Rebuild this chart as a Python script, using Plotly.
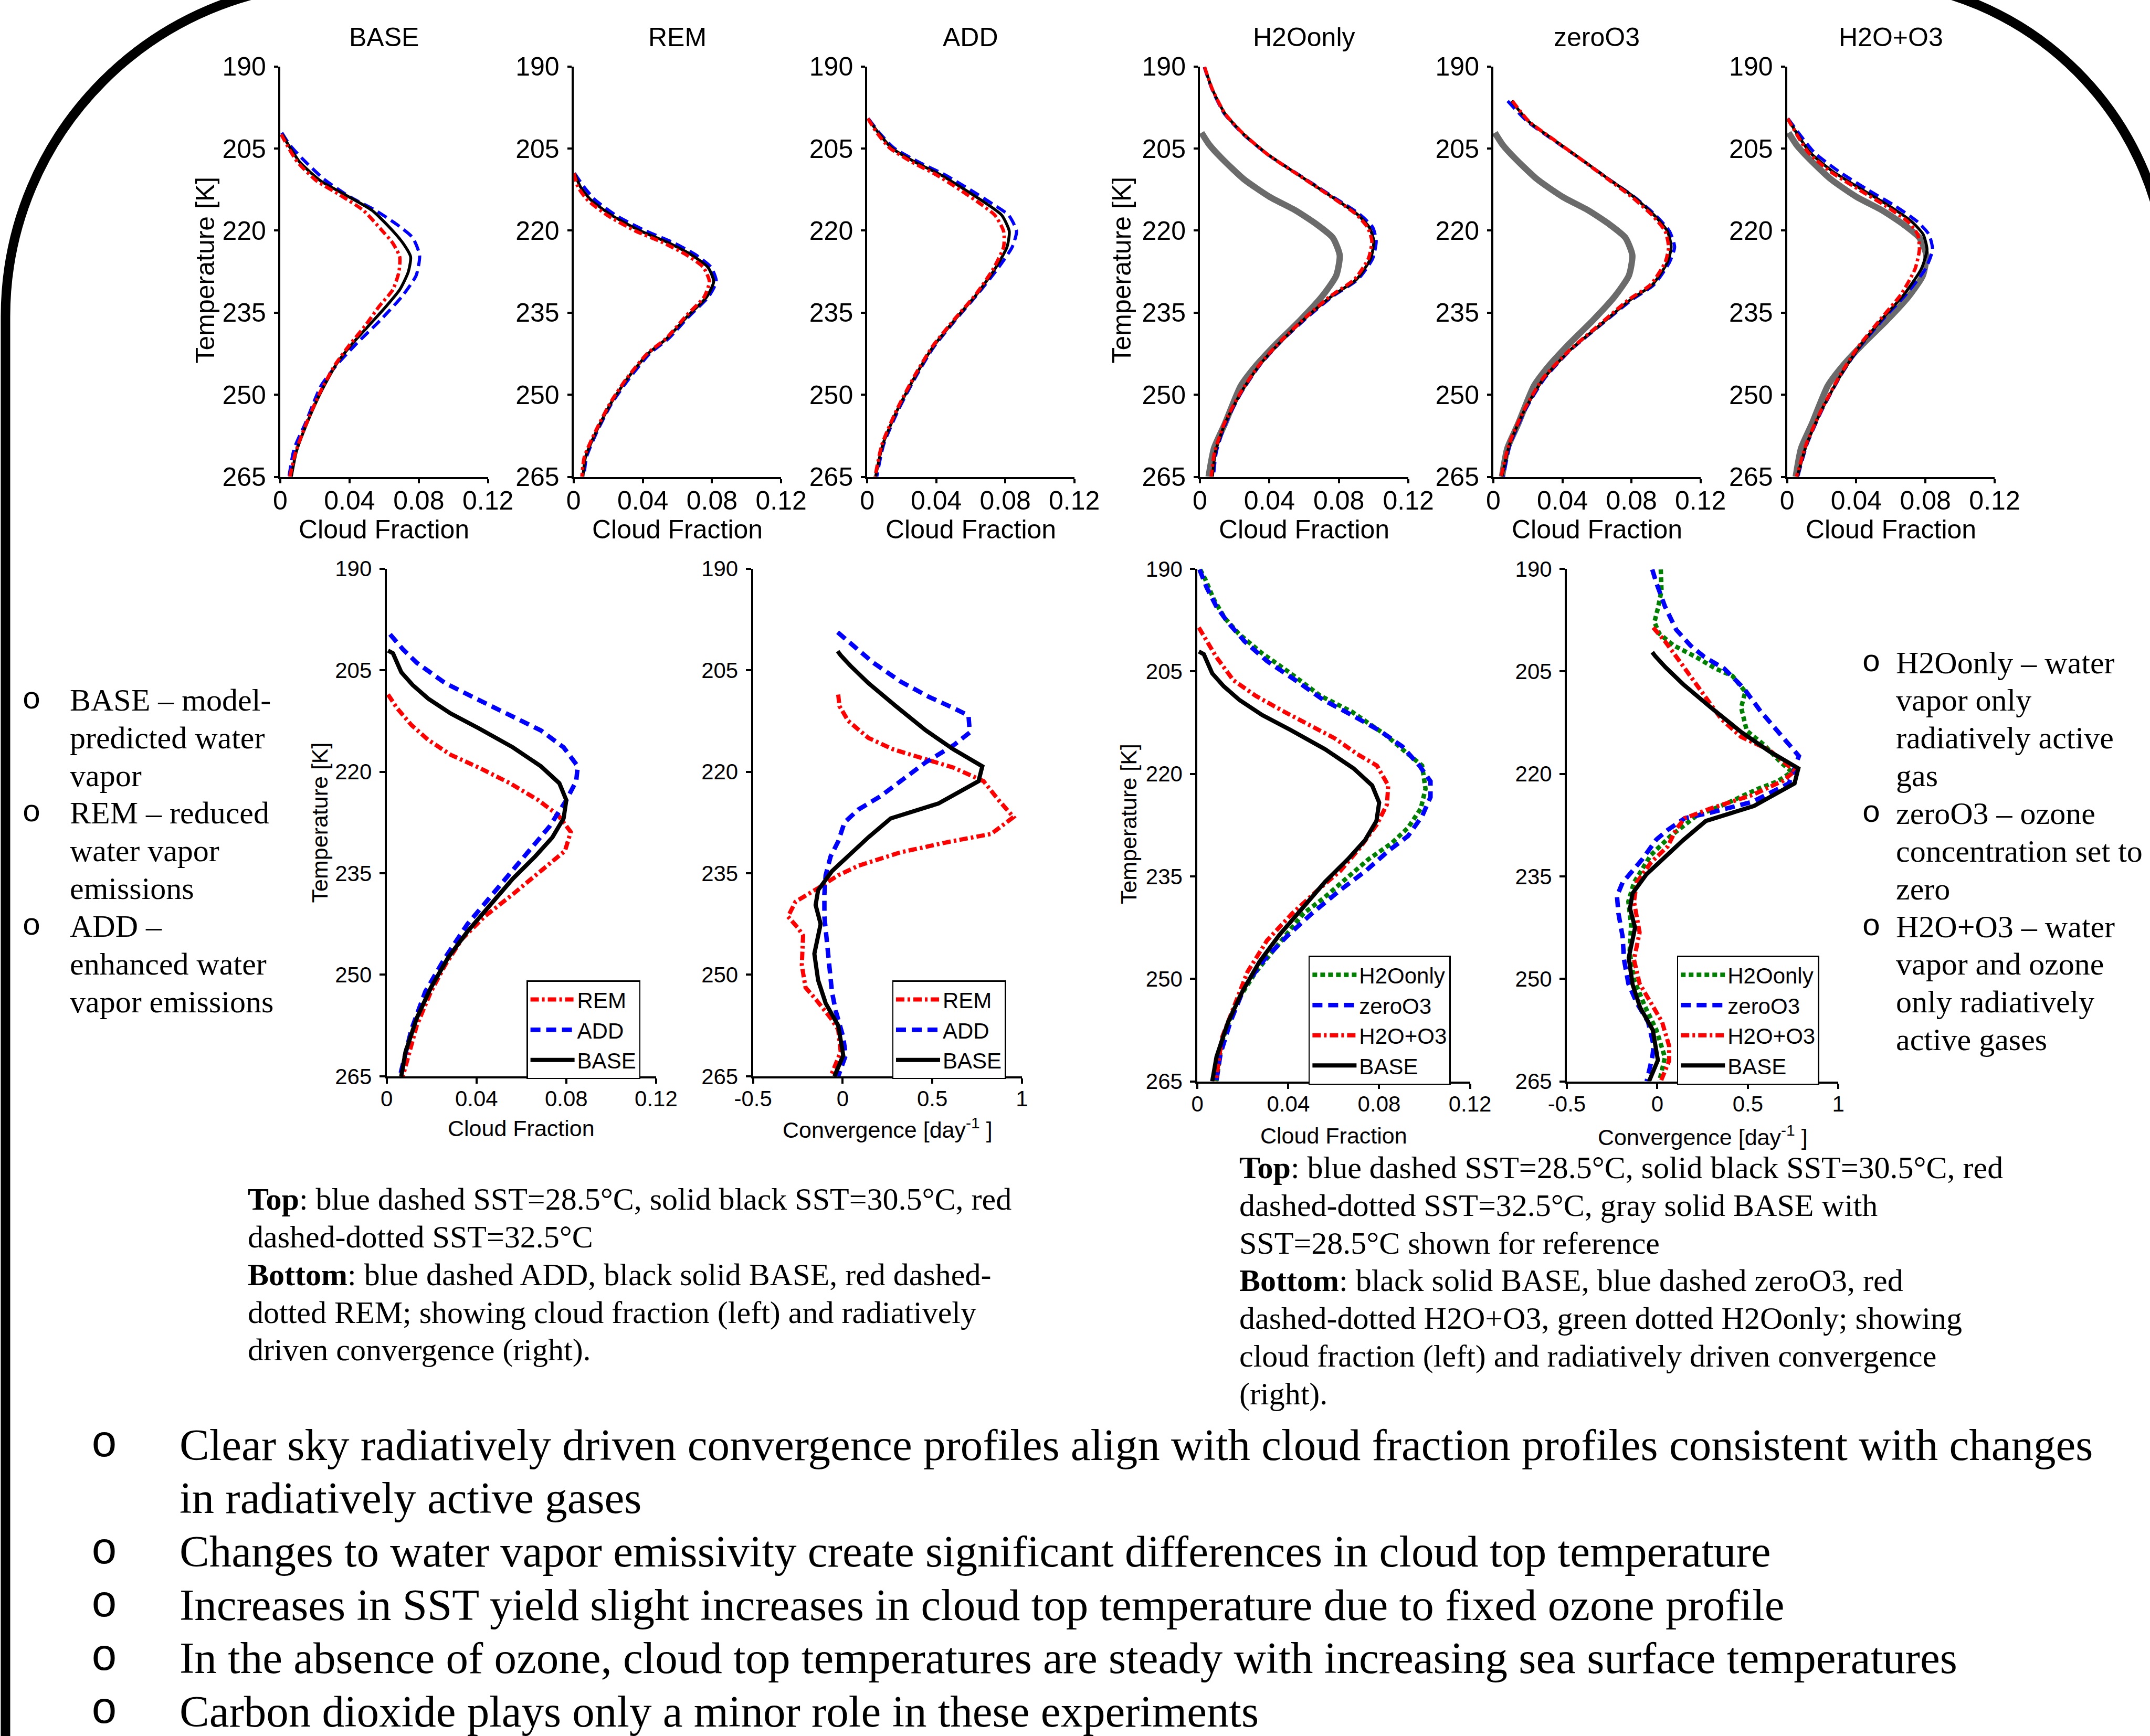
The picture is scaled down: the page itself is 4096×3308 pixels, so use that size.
import plotly.graph_objects as go

# ---------------- layout grid (design units of a 1568 x 1266 sheet) ----------------
W_REF, H_REF = 1568.0, 1266.0
W, H = 4096, 3308


def fx(x):
    return x / W_REF


def fy(y):
    return 1 - y / H_REF


# ---------------- data ----------------
TEMP_TICKS = [190, 205, 220, 235, 250, 265]
CF_TICKS = [0, 0.04, 0.08, 0.12]
CF_TICK_TEXT = ["0", "0.04", "0.08", "0.12"]
CV_TICKS = [-0.5, 0, 0.5, 1]
CV_TICK_TEXT = ["-0.5", "0", "0.5", "1"]

TOP_TITLES = ["BASE", "REM", "ADD", "H2Oonly", "zeroO3", "H2O+O3"]

# BASE, SST = 28.5 C (also used as the gray reference curve)
T_GRAY = [202.1, 204.3, 206.8, 210.6, 213.8, 216.3, 218.8, 221.3, 224.5, 228.2, 232.0, 236.4, 240.9, 244.6, 248.4, 255.3, 259.8, 265.0]
CF_GRAY = [0.0009, 0.0054, 0.0126, 0.0253, 0.0400, 0.0550, 0.0670, 0.0765, 0.0805, 0.0785, 0.0704, 0.0577, 0.0433, 0.0325, 0.0235, 0.0144, 0.0081, 0.0050]

T_BASE_TOP = [202.4, 205.0, 207.5, 210.9, 213.4, 216.3, 219.7, 222.3, 224.8, 227.6, 230.8, 233.9, 237.4, 240.9, 244.6, 249.7, 255.3, 260.4, 265.0]
CF_BASE_305 = [0.0010, 0.0060, 0.0113, 0.0232, 0.0372, 0.0530, 0.0640, 0.0709, 0.0753, 0.0739, 0.0690, 0.0610, 0.0510, 0.0410, 0.0320, 0.0232, 0.0153, 0.0093, 0.0064]
CF_BASE_325 = [0.0005, 0.0050, 0.0100, 0.0210, 0.0340, 0.0480, 0.0580, 0.0650, 0.0690, 0.0685, 0.0650, 0.0570, 0.0490, 0.0400, 0.0315, 0.0228, 0.0150, 0.0090, 0.0055]

T_REM_TOP = [209.5, 212.0, 214.4, 217.3, 220.1, 222.1, 224.4, 226.7, 229.3, 232.1, 235.6, 239.7, 242.5, 247.1, 251.6, 256.8, 261.4, 265.0]
CF_REM_285 = [0.0005, 0.0060, 0.0125, 0.0250, 0.0420, 0.0570, 0.0705, 0.0795, 0.0825, 0.0780, 0.0670, 0.0550, 0.0440, 0.0320, 0.0220, 0.0135, 0.0075, 0.0060]
CF_REM_305 = [0.0005, 0.0040, 0.0100, 0.0225, 0.0390, 0.0540, 0.0680, 0.0777, 0.0810, 0.0770, 0.0660, 0.0540, 0.0430, 0.0310, 0.0215, 0.0130, 0.0069, 0.0054]
CF_REM_325 = [0.0002, 0.0025, 0.0080, 0.0200, 0.0360, 0.0510, 0.0650, 0.0750, 0.0785, 0.0755, 0.0650, 0.0535, 0.0425, 0.0305, 0.0210, 0.0125, 0.0062, 0.0048]

T_ADD_TOP = [199.5, 202.3, 204.9, 207.5, 209.8, 212.6, 215.2, 217.2, 220.1, 223.0, 227.0, 231.6, 236.2, 241.3, 246.5, 252.8, 259.1, 265.0]
CF_ADD_285 = [0.0006, 0.0075, 0.0155, 0.0300, 0.0450, 0.0600, 0.0730, 0.0820, 0.0865, 0.0840, 0.0755, 0.0640, 0.0515, 0.0385, 0.0285, 0.0180, 0.0095, 0.0055]
CF_ADD_305 = [0.0004, 0.0069, 0.0142, 0.0279, 0.0425, 0.0570, 0.0697, 0.0780, 0.0823, 0.0810, 0.0740, 0.0635, 0.0510, 0.0380, 0.0280, 0.0174, 0.0090, 0.0048]
CF_ADD_325 = [0.0003, 0.0060, 0.0130, 0.0260, 0.0400, 0.0540, 0.0660, 0.0740, 0.0790, 0.0790, 0.0730, 0.0630, 0.0505, 0.0375, 0.0275, 0.0170, 0.0085, 0.0045]

T_H2O_TOP = [190.1, 194.2, 198.6, 202.4, 206.2, 210.0, 213.8, 216.9, 219.4, 221.9, 225.1, 228.9, 232.0, 235.8, 240.2, 244.6, 249.7, 255.3, 260.4, 265.0]
CF_H2O_285 = [0.0025, 0.0070, 0.0140, 0.0250, 0.0395, 0.0580, 0.0765, 0.0915, 0.0995, 0.1015, 0.0995, 0.0910, 0.0765, 0.0620, 0.0470, 0.0345, 0.0237, 0.0148, 0.0095, 0.0078]
CF_H2O_305 = [0.0027, 0.0072, 0.0144, 0.0253, 0.0397, 0.0577, 0.0758, 0.0902, 0.0975, 0.1001, 0.0983, 0.0902, 0.0758, 0.0614, 0.0469, 0.0343, 0.0235, 0.0144, 0.0090, 0.0072]
CF_H2O_325 = [0.0027, 0.0072, 0.0144, 0.0253, 0.0395, 0.0575, 0.0755, 0.0895, 0.0965, 0.0990, 0.0970, 0.0890, 0.0750, 0.0610, 0.0465, 0.0340, 0.0232, 0.0140, 0.0085, 0.0065]

T_ZO3_TOP = [196.3, 200.0, 203.5, 206.9, 210.4, 213.8, 217.2, 220.1, 223.0, 225.8, 229.9, 232.7, 237.3, 241.9, 247.1, 252.8, 259.1, 265.0]
CF_ZO3_285 = [0.0083, 0.0195, 0.0350, 0.0505, 0.0660, 0.0815, 0.0940, 0.1020, 0.1050, 0.1020, 0.0930, 0.0800, 0.0620, 0.0445, 0.0295, 0.0185, 0.0098, 0.0058]
CF_ZO3_305 = [0.0105, 0.0203, 0.0355, 0.0507, 0.0660, 0.0812, 0.0932, 0.1008, 0.1030, 0.1008, 0.0921, 0.0791, 0.0616, 0.0442, 0.0290, 0.0181, 0.0094, 0.0050]
CF_ZO3_325 = [0.0110, 0.0205, 0.0355, 0.0505, 0.0655, 0.0800, 0.0920, 0.0995, 0.1015, 0.0995, 0.0910, 0.0780, 0.0610, 0.0440, 0.0285, 0.0178, 0.0090, 0.0045]

T_HO3_TOP = [199.5, 202.9, 205.8, 209.2, 212.6, 215.5, 218.4, 220.7, 223.5, 227.0, 231.6, 236.2, 241.3, 246.5, 252.8, 259.1, 265.0]
CF_HO3_285 = [0.0005, 0.0085, 0.0160, 0.0300, 0.0470, 0.0625, 0.0755, 0.0820, 0.0841, 0.0800, 0.0690, 0.0555, 0.0420, 0.0310, 0.0202, 0.0115, 0.0062]
CF_HO3_305 = [0.0004, 0.0070, 0.0135, 0.0265, 0.0439, 0.0591, 0.0722, 0.0787, 0.0809, 0.0776, 0.0678, 0.0548, 0.0417, 0.0309, 0.0200, 0.0113, 0.0059]
CF_HO3_325 = [0.0003, 0.0065, 0.0125, 0.0250, 0.0420, 0.0570, 0.0700, 0.0755, 0.0765, 0.0740, 0.0660, 0.0540, 0.0410, 0.0305, 0.0198, 0.0110, 0.0055]

# bottom row, cloud fraction
T_BOT_BASE = [202.1, 202.5, 205.3, 207.2, 209.2, 211.4, 213.6, 216.4, 219.2, 221.7, 224.2, 226.9, 229.7, 232.5, 235.8, 239.7, 243.6, 247.5, 251.9, 256.4, 261.4, 265.0]
CF_BOT_BASE = [0.0006, 0.0028, 0.0065, 0.0116, 0.0185, 0.0285, 0.0411, 0.0562, 0.0687, 0.0769, 0.0800, 0.0788, 0.0738, 0.0662, 0.0562, 0.0461, 0.0360, 0.0273, 0.0197, 0.0134, 0.0084, 0.0065]
T_BOT_ADD = [199.7, 201.9, 203.9, 206.9, 209.2, 211.7, 213.9, 216.4, 219.2, 221.4, 224.2, 228.1, 232.5, 237.5, 242.5, 247.5, 252.5, 258.1, 265.0]
CF_BOT_ADD = [0.0015, 0.0072, 0.0134, 0.0260, 0.0398, 0.0549, 0.0687, 0.0788, 0.0851, 0.0844, 0.0800, 0.0725, 0.0612, 0.0486, 0.0360, 0.0260, 0.0172, 0.0110, 0.0059]
T_BOT_REM = [208.6, 210.6, 213.1, 215.3, 217.5, 219.4, 221.7, 224.2, 226.4, 228.9, 231.7, 234.7, 238.1, 241.4, 244.7, 248.6, 252.5, 257.5, 265.0]
CF_BOT_REM = [0.0006, 0.0046, 0.0110, 0.0185, 0.0285, 0.0411, 0.0549, 0.0675, 0.0763, 0.0820, 0.0794, 0.0687, 0.0562, 0.0436, 0.0336, 0.0260, 0.0197, 0.0134, 0.0072]
T_BOT_H2O = [190.1, 191.5, 194.4, 197.2, 199.5, 202.3, 205.2, 208.6, 210.9, 214.3, 217.1, 218.8, 222.2, 225.1, 227.9, 230.2, 232.5, 235.3, 238.2, 240.4, 245.0, 249.0, 253.5, 259.2, 265.0]
CF_BOT_H2O = [0.0012, 0.0034, 0.0071, 0.0120, 0.0182, 0.0282, 0.0406, 0.0542, 0.0679, 0.0828, 0.0927, 0.0989, 0.1004, 0.0983, 0.0927, 0.0853, 0.0753, 0.0654, 0.0555, 0.0468, 0.0356, 0.0257, 0.0170, 0.0108, 0.0083]
T_BOT_ZO3 = [190.1, 192.7, 195.5, 197.8, 200.6, 203.5, 206.3, 209.2, 211.4, 213.7, 216.0, 218.8, 221.1, 223.4, 226.2, 229.1, 231.3, 234.2, 237.0, 240.4, 243.8, 247.2, 251.2, 256.3, 260.9, 265.0]
CF_BOT_ZO3 = [0.0009, 0.0040, 0.0083, 0.0133, 0.0207, 0.0306, 0.0431, 0.0555, 0.0679, 0.0803, 0.0902, 0.0977, 0.1026, 0.1026, 0.0989, 0.0927, 0.0840, 0.0741, 0.0629, 0.0505, 0.0393, 0.0294, 0.0207, 0.0145, 0.0102, 0.0083]
T_BOT_HO3 = [198.6, 200.1, 202.9, 206.3, 208.6, 210.9, 213.1, 214.8, 217.1, 218.8, 221.7, 224.5, 227.4, 230.8, 234.2, 237.0, 240.4, 244.4, 249.0, 254.1, 258.6, 265.0]
CF_BOT_HO3 = [0.0006, 0.0034, 0.0083, 0.0158, 0.0257, 0.0381, 0.0505, 0.0604, 0.0703, 0.0790, 0.0840, 0.0834, 0.0790, 0.0716, 0.0629, 0.0530, 0.0418, 0.0306, 0.0220, 0.0158, 0.0108, 0.0081]

# bottom row, radiatively driven convergence [1/day]
T_CV_BASE = [202.2, 202.8, 204.4, 206.9, 210.3, 213.9, 216.7, 219.2, 221.4, 224.7, 226.9, 229.7, 232.8, 234.7, 237.5, 239.7, 242.5, 246.9, 250.8, 254.2, 257.5, 261.9, 265.0]
CV_BASE = [-0.028, -0.011, 0.045, 0.143, 0.296, 0.464, 0.618, 0.779, 0.758, 0.534, 0.268, 0.143, 0.017, -0.060, -0.137, -0.151, -0.123, -0.158, -0.137, -0.095, -0.025, 0.003, -0.046]
T_CV_ADD = [199.4, 200.7, 203.9, 206.7, 208.9, 210.6, 211.7, 214.2, 216.1, 218.6, 220.8, 223.6, 225.6, 227.5, 230.3, 232.5, 235.3, 238.1, 241.4, 245.3, 249.7, 252.5, 255.3, 259.2, 261.9, 265.0]
CV_ADD = [-0.028, 0.031, 0.171, 0.324, 0.478, 0.618, 0.702, 0.709, 0.618, 0.464, 0.352, 0.212, 0.087, 0.010, -0.025, -0.067, -0.095, -0.102, -0.102, -0.088, -0.067, -0.060, -0.039, 0.003, 0.017, -0.025]
T_CV_REM = [208.6, 210.3, 212.5, 215.0, 216.7, 218.1, 219.4, 221.4, 224.2, 226.7, 229.2, 230.3, 231.9, 233.9, 235.3, 237.2, 239.2, 241.4, 243.1, 244.2, 248.6, 251.9, 253.6, 256.4, 258.1, 261.4, 265.0]
CV_REM = [-0.025, -0.018, 0.031, 0.143, 0.282, 0.464, 0.618, 0.786, 0.870, 0.953, 0.828, 0.604, 0.324, 0.087, -0.025, -0.137, -0.263, -0.305, -0.249, -0.221, -0.228, -0.207, -0.151, -0.067, -0.025, -0.011, -0.067]
T_CV_H2O = [190.1, 193.2, 195.8, 197.8, 199.5, 201.2, 202.9, 204.6, 205.7, 208.0, 210.3, 213.7, 215.7, 218.3, 219.7, 221.1, 222.2, 224.5, 226.2, 229.1, 231.9, 235.9, 238.7, 242.1, 246.1, 250.1, 254.1, 257.5, 261.5, 265.0]
CV_H2O = [0.019, 0.023, 0.003, -0.016, 0.011, 0.089, 0.213, 0.322, 0.416, 0.486, 0.463, 0.494, 0.587, 0.681, 0.743, 0.665, 0.556, 0.369, 0.213, 0.073, -0.036, -0.129, -0.160, -0.145, -0.153, -0.129, -0.067, -0.005, 0.042, 0.011]
T_CV_ZO3 = [190.1, 192.1, 195.5, 198.9, 201.2, 202.9, 204.6, 207.5, 210.9, 213.7, 217.4, 221.4, 224.1, 225.6, 226.5, 228.2, 229.6, 232.5, 235.9, 237.9, 240.4, 243.8, 247.2, 250.7, 253.5, 256.3, 259.8, 261.5, 265.0]
CV_ZO3 = [-0.028, -0.005, 0.042, 0.104, 0.182, 0.260, 0.369, 0.478, 0.572, 0.665, 0.782, 0.727, 0.525, 0.307, 0.151, 0.058, -0.005, -0.083, -0.192, -0.223, -0.215, -0.192, -0.184, -0.160, -0.114, -0.051, -0.020, -0.028, -0.059]
T_CV_HO3 = [198.6, 200.6, 204.0, 207.9, 212.0, 214.6, 216.5, 219.6, 221.0, 223.1, 225.1, 226.5, 228.1, 230.6, 233.0, 235.9, 238.7, 243.2, 247.2, 250.7, 253.5, 256.3, 259.8, 262.0, 265.0]
CV_HO3 = [-0.023, 0.042, 0.136, 0.245, 0.354, 0.463, 0.618, 0.759, 0.696, 0.525, 0.291, 0.151, 0.104, 0.058, -0.036, -0.114, -0.129, -0.098, -0.129, -0.098, -0.036, 0.026, 0.065, 0.065, 0.019]

# ---------------- text ----------------
LEFT_BULLETS = [
    (True, "BASE – model-"), (False, "predicted water"), (False, "vapor"),
    (True, "REM – reduced"), (False, "water vapor"), (False, "emissions"),
    (True, "ADD –"), (False, "enhanced water"), (False, "vapor emissions"),
]
RIGHT_BULLETS = [
    (True, "H2Oonly – water"), (False, "vapor only"), (False, "radiatively active"), (False, "gas"),
    (True, "zeroO3 – ozone"), (False, "concentration set to"), (False, "zero"),
    (True, "H2O+O3 – water"), (False, "vapor and ozone"), (False, "only radiatively"), (False, "active gases"),
]
LEFT_CAPTION = [
    "<b>Top</b>: blue dashed SST=28.5°C, solid black SST=30.5°C, red",
    "dashed-dotted SST=32.5°C",
    "<b>Bottom</b>: blue dashed ADD, black solid BASE, red dashed-",
    "dotted REM; showing cloud fraction (left) and radiatively",
    "driven convergence (right).",
]
RIGHT_CAPTION = [
    "<b>Top</b>: blue dashed SST=28.5°C, solid black SST=30.5°C, red",
    "dashed-dotted SST=32.5°C, gray solid BASE with",
    "SST=28.5°C shown for reference",
    "<b>Bottom</b>: black solid BASE, blue dashed zeroO3, red",
    "dashed-dotted H2O+O3, green dotted H2Oonly; showing",
    "cloud fraction (left) and radiatively driven convergence",
    "(right).",
]
BOTTOM_BULLETS = [
    (True, "Clear sky radiatively driven convergence profiles align with cloud fraction profiles consistent with changes"),
    (False, "in radiatively active gases"),
    (True, "Changes to water vapor emissivity create significant differences in cloud top temperature"),
    (True, "Increases in SST yield slight increases in cloud top temperature due to fixed ozone profile"),
    (True, "In the absence of ozone, cloud top temperatures are steady with increasing sea surface temperatures"),
    (True, "Carbon dioxide plays only a minor role in these experiments"),
]

# ---------------- styles ----------------
SANS = "Liberation Sans, Arial, sans-serif"
SERIF = "Liberation Serif, Times New Roman, serif"
MONO = "Liberation Mono, Courier New, monospace"
BLUE, RED, BLACK, GRAY, GREEN = "#0000FF", "#FF0000", "#000000", "#6b6b6b", "#008000"

TOP_STYLE = {
    "gray": dict(color=GRAY, width=12),
    "blue": dict(color=BLUE, width=6, dash="20px,10px"),
    "black": dict(color=BLACK, width=5.5),
    "red": dict(color=RED, width=6.5, dash="16px,6px,5px,6px"),
}
BOT_STYLE = {
    "blue": dict(color=BLUE, width=8.5, dash="19px,11px"),
    "black": dict(color=BLACK, width=8),
    "red": dict(color=RED, width=8, dash="16px,6px,5px,6px"),
    "green": dict(color=GREEN, width=8.5, dash="9px,6px"),
}

# panel geometry in design units: (x0, x1), (ytop, ybottom)
TOP_X = [(204.4, 355.9), (418.3, 569.7), (632.5, 783.5), (875.1, 1027.1), (1089.1, 1240.2), (1303.3, 1454.7)]
TOP_Y = (48.5, 347.7)
BOT_PANELS = [((282.0, 478.5), (414.7, 784.9)), ((549.2, 745.3), (414.7, 784.9)),
              ((873.3, 1072.1), (414.8, 788.6)), ((1142.7, 1340.7), (414.8, 788.6))]

fig = go.Figure()
layout = dict(width=W, height=H, autosize=False,
              margin=dict(l=0, r=0, t=0, b=0, pad=0, autoexpand=False),
              paper_bgcolor="white", plot_bgcolor="white", showlegend=True)


def axid(i):
    return "" if i == 1 else str(i)


def add_axes(i, xd, yd, xr, tickvals, ticktext, tfont, ticklen, xstand, ystand):
    s = axid(i)
    common = dict(showline=True, linecolor=BLACK, linewidth=4, ticks="outside", ticklen=ticklen,
                  tickwidth=4, tickcolor=BLACK, showgrid=False, zeroline=False, automargin=False,
                  tickfont=dict(family=SANS, size=tfont, color=BLACK), fixedrange=True)
    layout["xaxis" + s] = dict(domain=[fx(xd[0]), fx(xd[1])], range=xr, anchor="y" + s,
                               tickmode="array", tickvals=tickvals, ticktext=ticktext,
                               ticklabelstandoff=xstand, **common)
    layout["yaxis" + s] = dict(domain=[fy(yd[1]), fy(yd[0])], range=[265, 190], anchor="x" + s,
                               tickmode="array", tickvals=TEMP_TICKS,
                               ticktext=[str(t) for t in TEMP_TICKS],
                               ticklabelstandoff=ystand, **common)


def add_line(i, T, X, style, name=None, legend=None, shape="linear"):
    s = axid(i)
    fig.add_trace(go.Scatter(
        x=X, y=T, mode="lines", name=name, xaxis="x" + s, yaxis="y" + s,
        line=dict(shape=shape, smoothing=0.6 if shape == "spline" else None, **style),
        showlegend=legend is not None, legend=legend if legend else "legend",
        hoverinfo="skip"))


# top row panels
top_series = [
    [("blue", T_GRAY, CF_GRAY), ("black", T_BASE_TOP, CF_BASE_305), ("red", T_BASE_TOP, CF_BASE_325)],
    [("blue", T_REM_TOP, CF_REM_285), ("black", T_REM_TOP, CF_REM_305), ("red", T_REM_TOP, CF_REM_325)],
    [("blue", T_ADD_TOP, CF_ADD_285), ("black", T_ADD_TOP, CF_ADD_305), ("red", T_ADD_TOP, CF_ADD_325)],
    [("gray", T_GRAY, CF_GRAY), ("blue", T_H2O_TOP, CF_H2O_285), ("black", T_H2O_TOP, CF_H2O_305), ("red", T_H2O_TOP, CF_H2O_325)],
    [("gray", T_GRAY, CF_GRAY), ("blue", T_ZO3_TOP, CF_ZO3_285), ("black", T_ZO3_TOP, CF_ZO3_305), ("red", T_ZO3_TOP, CF_ZO3_325)],
    [("gray", T_GRAY, CF_GRAY), ("blue", T_HO3_TOP, CF_HO3_285), ("black", T_HO3_TOP, CF_HO3_305), ("red", T_HO3_TOP, CF_HO3_325)],
]
for k, (xd, series) in enumerate(zip(TOP_X, top_series)):
    i = k + 1
    add_axes(i, xd, TOP_Y, [0, 0.12], CF_TICKS, CF_TICK_TEXT, 50, 8, -10, 5)
    for key, T, X in series:
        add_line(i, T, X, TOP_STYLE[key], shape="spline")

# bottom row panels
bot_series = [
    ("cf", "legend", [("red", "REM", T_BOT_REM, CF_BOT_REM), ("blue", "ADD", T_BOT_ADD, CF_BOT_ADD),
                      ("black", "BASE", T_BOT_BASE, CF_BOT_BASE)]),
    ("cv", "legend2", [("red", "REM", T_CV_REM, CV_REM), ("blue", "ADD", T_CV_ADD, CV_ADD),
                       ("black", "BASE", T_CV_BASE, CV_BASE)]),
    ("cf", "legend3", [("green", "H2Oonly", T_BOT_H2O, CF_BOT_H2O), ("blue", "zeroO3", T_BOT_ZO3, CF_BOT_ZO3),
                       ("red", "H2O+O3", T_BOT_HO3, CF_BOT_HO3), ("black", "BASE", T_BOT_BASE, CF_BOT_BASE)]),
    ("cv", "legend4", [("green", "H2Oonly", T_CV_H2O, CV_H2O), ("blue", "zeroO3", T_CV_ZO3, CV_ZO3),
                       ("red", "H2O+O3", T_CV_HO3, CV_HO3), ("black", "BASE", T_CV_BASE, CV_BASE)]),
]
for k, ((xd, yd), (kind, leg, series)) in enumerate(zip(BOT_PANELS, bot_series)):
    i = 7 + k
    if kind == "cf":
        add_axes(i, xd, yd, [0, 0.12], CF_TICKS, CF_TICK_TEXT, 42, 10, -7, 6)
    else:
        add_axes(i, xd, yd, [-0.5, 1], CV_TICKS, CV_TICK_TEXT, 42, 10, -7, 6)
    for key, name, T, X in series:
        add_line(i, T, X, BOT_STYLE[key], name=name, legend=leg)

LEGEND_POS = [("legend", 384, 715), ("legend2", 650.6, 715), ("legend3", 954.3, 697), ("legend4", 1223, 697)]
for key, lx, ly in LEGEND_POS:
    layout[key] = dict(x=fx(lx), y=fy(ly), xanchor="left", yanchor="top", xref="paper", yref="paper",
                       bgcolor="white", bordercolor=BLACK, borderwidth=2.5, itemwidth=84,
                       font=dict(family=SANS, size=42, color=BLACK), tracegroupgap=0,
                       traceorder="normal")

# ---------------- annotations ----------------
ann = []


def text(t, x, y, size, family=SANS, xanchor="left", yanchor="middle", angle=0):
    ann.append(dict(text=t, x=fx(x), y=fy(y), xref="paper", yref="paper", showarrow=False,
                    xanchor=xanchor, yanchor=yanchor, textangle=angle,
                    font=dict(family=family, size=size, color=BLACK)))


for (x0, x1), title in zip(TOP_X, TOP_TITLES):
    cx = (x0 + x1) / 2
    text(title, cx, 27, 50, xanchor="center")
    text("Cloud Fraction", cx, 386, 50, xanchor="center")
text("Temperature [K]", 149.6, 197, 50, xanchor="center", angle=-90)
text("Temperature [K]", 818.0, 197, 50, xanchor="center", angle=-90)

text("Temperature [K]", 233.0, 600, 43, xanchor="center", angle=-90)
text("Temperature [K]", 823.3, 601, 43, xanchor="center", angle=-90)
BOT_XTITLES = ["Cloud Fraction", "Convergence [day<sup>-1</sup> ]", "Cloud Fraction", "Convergence [day<sup>-1</sup> ]"]
BOT_XTITLE_Y = [823, 823, 828, 828]
for ((x0, x1), _), t, yy in zip(BOT_PANELS, BOT_XTITLES, BOT_XTITLE_Y):
    text(t, (x0 + x1) / 2, yy, 43, xanchor="center")

SERIF_SIZE = 60
for j, (bul, line) in enumerate(LEFT_BULLETS):
    yy = 510.5 + 27.5 * j
    if bul:
        text("o", 15.5, yy, SERIF_SIZE, family=MONO)
    text(line, 50, yy, SERIF_SIZE, family=SERIF)
for j, (bul, line) in enumerate(RIGHT_BULLETS):
    yy = 483.2 + 27.5 * j
    if bul:
        text("o", 1357, yy, SERIF_SIZE, family=MONO)
    text(line, 1382, yy, SERIF_SIZE, family=SERIF)
for j, line in enumerate(LEFT_CAPTION):
    text(line, 180, 875 + 27.5 * j - 0.5, SERIF_SIZE, family=SERIF)
for j, line in enumerate(RIGHT_CAPTION):
    text(line, 903, 852 + 27.5 * j - 0.5, SERIF_SIZE, family=SERIF)
for j, (bul, line) in enumerate(BOTTOM_BULLETS):
    yy = 1053.5 + 38.9 * j
    if bul:
        text("o", 65.5, yy, 85, family=MONO)
    text(line, 130, yy, 85, family=SERIF)

layout["annotations"] = ann

# ---------------- decorative rounded frame ----------------
K = 0.5523


def P(x, y):
    return f"{fx(x):.5f},{fy(y):.5f}"


cxl, cyl, rl = 247.0, 231.0, 243.0
left_path = ("M " + P(cxl - rl, 1300) + " L " + P(cxl - rl, cyl) +
             " C " + P(cxl - rl, cyl - K * rl) + " " + P(cxl - K * rl, cyl - rl) + " " + P(cxl, cyl - rl))
cxr, cyr, rr = 1355.0, 212.0, 226.0
right_path = ("M " + P(cxr, cyr - rr) + " C " + P(cxr + K * rr, cyr - rr) + " " +
              P(cxr + rr, cyr - K * rr) + " " + P(cxr + rr, cyr) + " L " + P(cxr + rr, 1300))
layout["shapes"] = [
    dict(type="path", path=left_path, xref="paper", yref="paper", line=dict(color=BLACK, width=18)),
    dict(type="path", path=right_path, xref="paper", yref="paper", line=dict(color=BLACK, width=18)),
]

fig.update_layout(**layout)
fig.write_html("out.html", config={"displayModeBar": False},
               post_script="document.body.style.margin='0';document.body.style.overflow='hidden';")
